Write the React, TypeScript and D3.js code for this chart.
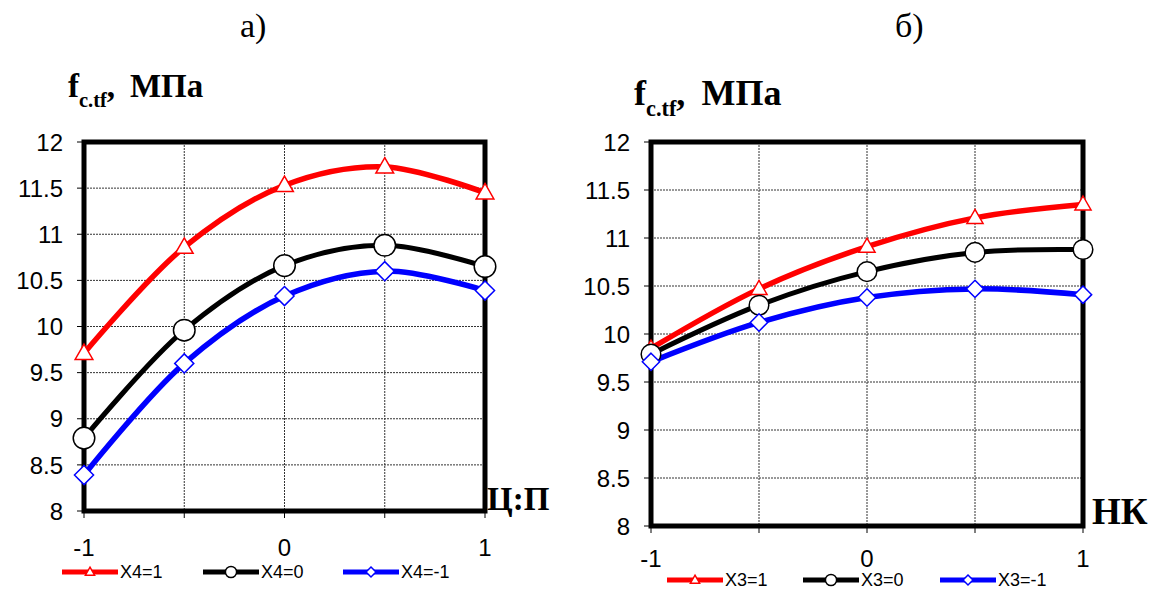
import React from "react";
import * as d3 from "d3";

const xValues = [-1, -0.5, 0, 0.5, 1];
const xTickValues = [-1, 0, 1];
const yTickValues = [8, 8.5, 9, 9.5, 10, 10.5, 11, 11.5, 12];

// Chart a) — X4 levels vs Ц:П
const aX4p1 = [9.71, 10.86, 11.53, 11.73, 11.45];
const aX4z0 = [8.79, 9.96, 10.66, 10.88, 10.65];
const aX4m1 = [8.39, 9.6, 10.33, 10.6, 10.39];
const aLabels = ["X4=1", "X4=0", "X4=-1"];

// Chart б) — X3 levels vs НК
const bX3p1 = [9.85, 10.47, 10.91, 11.21, 11.35];
const bX3z0 = [9.79, 10.3, 10.65, 10.85, 10.88];
const bX3m1 = [9.71, 10.12, 10.38, 10.47, 10.41];
const bLabels = ["X3=1", "X3=0", "X3=-1"];

const colors = ["#ff0000", "#000000", "#0000ff"];
const markers = ["triangle", "circle", "diamond"];

type PanelProps = {
  left: number; top: number; right: number; bottom: number;
  series: number[][]; labels: string[];
  title: string; titleX: number;
  xName: string; xNameX: number; xNameY: number; xNameSize: number;
  yLabX: number; yLabY: number; yLabSize: number;
  xLabY: number; legendY: number; legendX: number[];
  markerScale: number;
};

function Marker({ type, x, y, s, color }: { type: string; x: number; y: number; s: number; color: string }) {
  if (type === "triangle") {
    const h = s * 1.0;
    const w = s * 1.15;
    return <path d={`M${x},${y - h * 0.6} L${x + w / 2},${y + h * 0.4} L${x - w / 2},${y + h * 0.4} Z`} fill="#fff" stroke={color} strokeWidth={1.5} />;
  }
  if (type === "circle") {
    return <circle cx={x} cy={y} r={s * 0.7} fill="#fff" stroke={color} strokeWidth={1.5} />;
  }
  const r = s * 0.62;
  return <path d={`M${x},${y - r} L${x + r},${y} L${x},${y + r} L${x - r},${y} Z`} fill="#fff" stroke={color} strokeWidth={1.5} />;
}

function Panel(p: PanelProps) {
  const x = d3.scaleLinear().domain([-1, 1]).range([p.left, p.right]);
  const y = d3.scaleLinear().domain([8, 12]).range([p.bottom, p.top]);
  const line = d3.line<number>()
    .x((_, i) => x(xValues[i]))
    .y((d) => y(d))
    .curve(d3.curveCatmullRom.alpha(0.5));
  const widths = [5.5, 5, 5.5];
  return (
    <g>
      <text x={p.titleX} y={37} fontFamily="'Liberation Serif', 'Times New Roman', serif" fontSize={34}>{p.title}</text>
      <text x={p.yLabX} y={p.yLabY} fontFamily="'Liberation Serif', 'Times New Roman', serif" fontWeight="bold" fontSize={p.yLabSize}>
        <tspan>f</tspan>
        <tspan fontSize={p.yLabSize * 0.62} dy={p.yLabSize * 0.3}>c.tf</tspan>
        <tspan dy={-p.yLabSize * 0.3}>,</tspan>
        <tspan dx={p.yLabSize * 0.45}>МПа</tspan>
      </text>
      {/* grid */}
      {yTickValues.map((v) => (
        <line key={"gy" + v} x1={p.left} x2={p.right} y1={y(v)} y2={y(v)} stroke="#333" strokeWidth={1} strokeDasharray="2,1" />
      ))}
      {xValues.map((v) => (
        <line key={"gx" + v} x1={x(v)} x2={x(v)} y1={p.top} y2={p.bottom} stroke="#333" strokeWidth={1} strokeDasharray="2,1" />
      ))}
      {/* ticks */}
      {yTickValues.map((v) => (
        <g key={"ty" + v}>
          <line x1={p.left - 7} x2={p.left} y1={y(v)} y2={y(v)} stroke="#000" strokeWidth={1} />
          <text x={p.left - 21} y={y(v)} dy="0.36em" textAnchor="end" fontFamily="'Liberation Sans', Arial, sans-serif" fontSize={24}>{d3.format("")(v)}</text>
        </g>
      ))}
      {xValues.map((v) => (
        <line key={"tx" + v} x1={x(v)} x2={x(v)} y1={p.bottom} y2={p.bottom + 7} stroke="#000" strokeWidth={1} />
      ))}
      {xTickValues.map((v) => (
        <text key={"xl" + v} x={x(v)} y={p.xLabY} textAnchor="middle" fontFamily="'Liberation Sans', Arial, sans-serif" fontSize={24}>{v}</text>
      ))}
      {/* frame */}
      <rect x={p.left} y={p.top} width={p.right - p.left} height={p.bottom - p.top} fill="none" stroke="#000" strokeWidth={5} />
      {/* series */}
      {p.series.map((s, i) => (
        <path key={"s" + i} d={line(s) || ""} fill="none" stroke={colors[i]} strokeWidth={widths[i]} />
      ))}
      {p.series.map((s, i) =>
        s.map((v, j) => (
          <Marker key={"m" + i + "-" + j} type={markers[i]} x={x(xValues[j])} y={y(v)} s={14 * p.markerScale} color={colors[i]} />
        ))
      )}
      <text x={p.xNameX} y={p.xNameY} fontFamily="'Liberation Serif', 'Times New Roman', serif" fontWeight="bold" fontSize={p.xNameSize}>{p.xName}</text>
      {/* legend */}
      {p.labels.map((lab, i) => (
        <g key={"lg" + i}>
          <line x1={p.legendX[i]} x2={p.legendX[i] + 56} y1={p.legendY} y2={p.legendY} stroke={colors[i]} strokeWidth={5} />
          <Marker type={markers[i]} x={p.legendX[i] + 28} y={p.legendY} s={8} color={colors[i]} />
          <text x={p.legendX[i] + 58} y={p.legendY} dy="0.35em" fontFamily="'Liberation Sans', Arial, sans-serif" fontSize={18}>{lab}</text>
        </g>
      ))}
    </g>
  );
}

export default function App() {
  return (
    <svg width={1157} height={591} style={{ position: "absolute", left: 0, top: 0, background: "#fff" }}>
      <rect width={1157} height={591} fill="#fff" />
      <Panel left={84} top={142} right={485} bottom={511}
        series={[aX4p1, aX4z0, aX4m1]} labels={aLabels}
        title="а)" titleX={240}
        xName="Ц:П" xNameX={487} xNameY={510} xNameSize={33}
        yLabX={68} yLabY={97} yLabSize={33}
        xLabY={556} legendY={572} legendX={[62, 203, 343]}
        markerScale={1.1} />
      <Panel left={651} top={142} right={1083} bottom={526}
        series={[bX3p1, bX3z0, bX3m1]} labels={bLabels}
        title="б)" titleX={895}
        xName="НК" xNameX={1092} xNameY={524} xNameSize={37}
        yLabX={634} yLabY={105} yLabSize={36}
        xLabY={567} legendY={580} legendX={[667, 803, 940]}
        markerScale={1.0} />
    </svg>
  );
}
